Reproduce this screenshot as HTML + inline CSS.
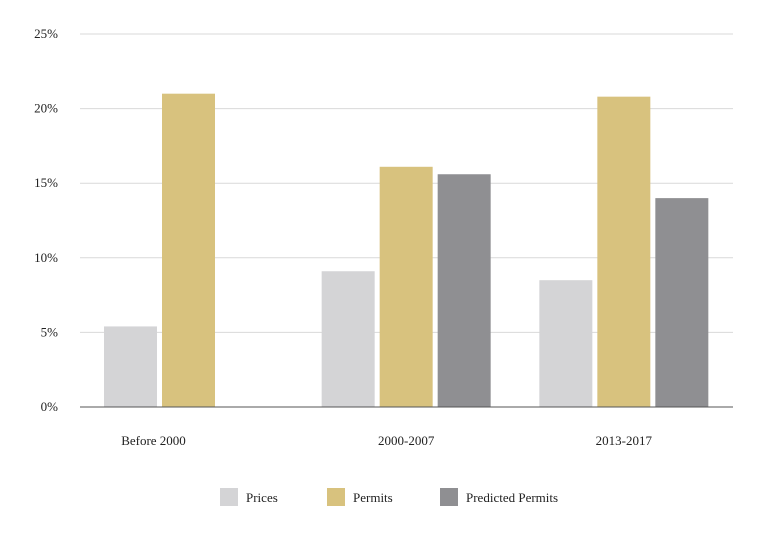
<!DOCTYPE html>
<html><head><meta charset="utf-8"><style>
html,body{margin:0;padding:0;background:#fff;}
svg{display:block;font-family:"Liberation Serif",serif;}
</style></head><body>
<svg id="chart" width="768" height="541" viewBox="0 0 768 541" xmlns="http://www.w3.org/2000/svg">
<g id="grid"></g>
<g id="yaxis"></g>
<g id="bars"></g>
<g id="xaxis"></g>
<g id="legend"></g>
</svg>
<script>
const categories = ["Before 2000", "2000-2007", "2013-2017"];
const seriesNames = ["Prices", "Permits", "Predicted Permits"];
const prices = [5.4, 9.1, 8.5];
const permits = [21.0, 16.1, 20.8];
const predicted = [null, 15.6, 14.0];
const yTicks = [0, 5, 10, 15, 20, 25];
const yTickLabels = ["0%", "5%", "10%", "15%", "20%", "25%"];

const colors = ["#d4d4d6", "#d8c27e", "#8f8f92"];
const NS = "http://www.w3.org/2000/svg";
const x0 = 80, x1 = 733, yBase = 407, yTop = 34, yMax = 25;
const band = (x1 - x0) / categories.length;
const barW = 53, gap = 5, pad = 24;
function y(v){ return yBase - (v / yMax) * (yBase - yTop); }
function mk(tag, attrs, parent){ const e = document.createElementNS(NS, tag); for (const k in attrs) e.setAttribute(k, attrs[k]); parent.appendChild(e); return e; }

const grid = document.getElementById("grid"), yaxis = document.getElementById("yaxis");
yTicks.forEach((t, i) => {
  if (t !== 0) {
    const l = mk("line", {x1: x0, x2: x1, y1: y(t), y2: y(t), stroke: "#d9d9d9", "stroke-width": 1}, grid);
    
    
  }
  const tx = mk("text", {x: 58, y: y(t) + 4, "text-anchor": "end", "font-size": 13, fill: "#222"}, yaxis);
  tx.textContent = yTickLabels[i];
  
  
});

const barsG = document.getElementById("bars"), xaxis = document.getElementById("xaxis");
const series = [prices, permits, predicted];
categories.forEach((c, ci) => {
  const start = x0 + ci * band + pad;
  let n = 0;
  series.forEach((s, si) => {
    const v = s[ci];
    if (v === null || v === undefined) return;
    n = si + 1;
    const r = mk("rect", {x: start + si * (barW + gap), y: y(v), width: barW, height: yBase - y(v), fill: colors[si]}, barsG);
    
    
  });
  const cx = start + (n * barW + (n - 1) * gap) / 2 - (n === 2 ? 6 : 0);
  const t = mk("text", {x: cx, y: 445, "text-anchor": "middle", "font-size": 13, fill: "#222"}, xaxis);
  t.textContent = c;
  
  
});
const ax = mk("line", {x1: x0, x2: x1, y1: yBase, y2: yBase, stroke: "#555", "stroke-width": 1}, xaxis);



const legend = document.getElementById("legend");
const lx = [220, 327, 440];
seriesNames.forEach((nm, i) => {
  const g = mk("g", {}, legend);
  
  
  mk("rect", {x: lx[i], y: 488, width: 18, height: 18, fill: colors[i]}, g);
  const t = mk("text", {x: lx[i] + 26, y: 502, "font-size": 13, fill: "#222"}, g);
  t.textContent = nm;
});
</script>
</body></html>
